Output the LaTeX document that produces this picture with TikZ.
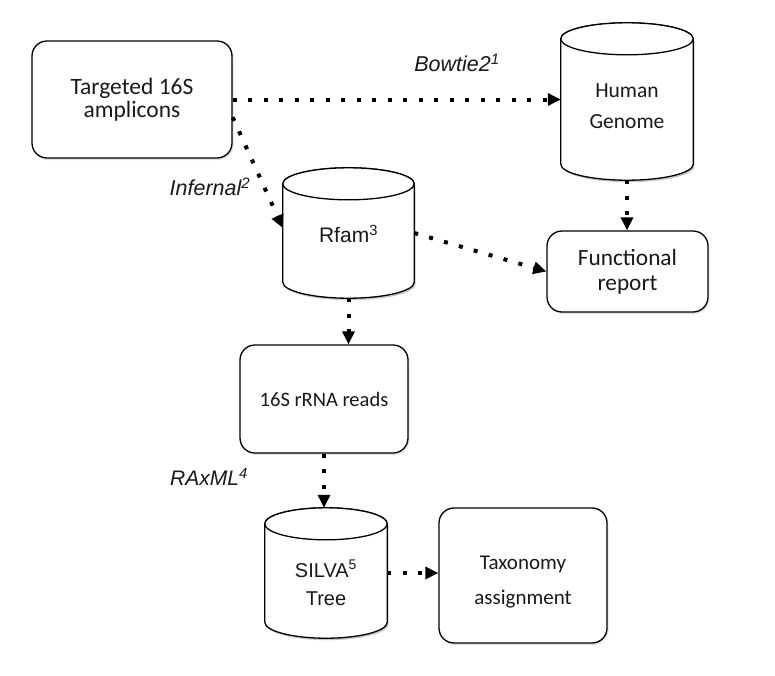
\documentclass[tikz,border=0pt]{standalone}
\usepackage{fontspec}
\setmainfont{Carlito}
\newfontfamily\arialf{Liberation Sans}
\usetikzlibrary{arrows.meta,shadows,calc,backgrounds}
\tikzset{
  box/.style={draw=black, line width=1.3pt, rounded corners=15pt, fill=white, align=center,
    inner sep=0pt, text=black!90,
    drop shadow={shadow xshift=1.5pt, shadow yshift=-2pt, opacity=0.22}},
  cylnode/.style={inner sep=0pt, align=center, text=black!90},
  cylline/.style={draw=black, line width=1.3pt, fill=white},
  cylshadow/.style={fill=black, opacity=0.22},
  flow/.style={line width=4pt, dash pattern=on 4pt off 11.5pt,
    -{Triangle[length=13pt,width=12pt]}},
  lbl/.style={font=\arialf\itshape\fontsize{21.5}{24}\selectfont, text=black!90, inner sep=0pt}
}
\newcommand\cylshape[2]{%
  \fill[cylshadow] let \p1=(#1.north west), \p2=(#1.south east), \n1={(\x2-\x1)/2} in
    (\x1+1.5pt,\y1-#2-2pt) -- (\x1+1.5pt,\y2+#2-2pt)
    arc[start angle=180,end angle=360,x radius={\n1*1pt},y radius=#2]
    -- (\x2+1.5pt,\y1-#2-2pt) -- cycle;
  \draw[cylline] let \p1=(#1.north west), \p2=(#1.south east), \n1={(\x2-\x1)/2} in
    (\x1,\y1-#2) -- (\x1,\y2+#2)
    arc[start angle=180,end angle=360,x radius={\n1*1pt},y radius=#2]
    -- (\x2,\y1-#2) arc[start angle=0,end angle=180,x radius={\n1*1pt},y radius=#2] -- cycle;
  \draw[cylline] let \p1=(#1.north west), \p2=(#1.south east), \n1={(\x2-\x1)/2} in
    (\x1+\n1,\y1-#2) ellipse[x radius={\n1*1pt},y radius=#2];
}
\begin{document}
\begin{tikzpicture}[x=1pt,y=1pt]
\useasboundingbox (0,0) rectangle (775,-675);

\node[box, minimum width=200pt, minimum height=117pt,
  font=\fontsize{23.5}{23}\selectfont] (tgt) at (132,-99.5) {Targeted 16S\\amplicons};
\node[cylnode, minimum width=132pt, minimum height=157pt,
  font=\fontsize{21.5}{31}\selectfont] (hg) at (627,-101.5) {\rule{0pt}{24pt}Human\\Genome};
\node[cylnode, minimum width=131pt, minimum height=130pt,
  font=\arialf\fontsize{21}{24}\selectfont] (rfam) at (348.5,-233) {\rule{0pt}{10pt}\\[-14pt]Rfam\textsuperscript{3}};
\node[box, minimum width=161pt, minimum height=81pt,
  font=\fontsize{23.3}{25}\selectfont] (func) at (627.5,-271.5) {Functional\\report};
\node[box, minimum width=168pt, minimum height=108pt,
  font=\fontsize{20.5}{24}\selectfont] (reads) at (324,-399) {16S rRNA reads};
\node[cylnode, minimum width=122pt, minimum height=130pt,
  font=\arialf\fontsize{20}{28}\selectfont] (silva) at (326,-573) {\rule{0pt}{37pt}SILVA\textsuperscript{5}\\Tree};
\node[box, minimum width=168pt, minimum height=135pt,
  font=\fontsize{21}{35}\selectfont] (tax) at (523,-575.5) {\rule{0pt}{26pt}Taxonomy\\assignment};

\begin{scope}[on background layer]
  \fill[white] (0,0) rectangle (775,-675);
  \cylshape{hg}{16pt}
  \cylshape{rfam}{16pt}
  \cylshape{silva}{16pt}
\end{scope}

\node[lbl] (lb1) at (457,-63) {Bowtie2\textsuperscript{1}};
\node[lbl] (lb2) at (210,-187) {Infernal\textsuperscript{2}};
\node[lbl, font=\arialf\itshape\fontsize{21}{24}\selectfont] (lb3) at (209,-477) {RAxML\textsuperscript{4}};

\draw[flow] (tgt.east) -- (tgt.east -| hg.west);
\draw[flow] (tgt.-10) -- ([yshift=5pt]rfam.west);
\draw[flow] (rfam.east) -- (func.west);
\draw[flow] (hg.south) -- (hg.south |- func.north);
\draw[flow] (rfam.south) -- (rfam.south |- reads.north);
\draw[flow] (reads.south) -- (reads.south |- silva.north);
\draw[flow] (silva.east) -- (silva.east -| tax.west);
\end{tikzpicture}
\end{document}
